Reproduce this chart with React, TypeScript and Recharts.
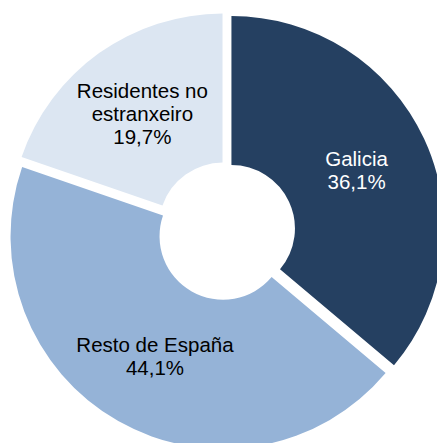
import React from "react";
import { PieChart, Pie, Cell } from "recharts";

// slices, clockwise from 12 o'clock
const categories = ["Galicia", "Resto de España", "Residentes no estranxeiro"];
const shares = [36.1, 44.1, 19.7];
const labelLines = [["Galicia"], ["Resto de España"], ["Residentes no", "estranxeiro"]];
const colors = ["#254061", "#95B3D7", "#DCE6F2"];
const textColors = ["#ffffff", "#000000", "#000000"];

const data = categories.map((name, i) => ({ name, value: shares[i] }));

const WIDTH = 437;
const HEIGHT = 443;
const CX = 226;
const CY = 231;
const INNER = 63.5;
const OUTER = 212.5;
const EXPLODE = 6;
const START = 90;
const END = -270;
const FONT = 20.5;
const LINE = 23;

const total = shares.reduce((a, b) => a + b, 0);

// push every slice a little away from the centre along its mid angle
const offsets = shares.map((v, i) => {
    const before = shares.slice(0, i).reduce((a, b) => a + b, 0);
    const mid = START + ((END - START) * (before + v / 2)) / total;
    const rad = (mid * Math.PI) / 180;
    return { dx: EXPLODE * Math.cos(rad), dy: -EXPLODE * Math.sin(rad) };
});

const fmt = (v: number) => v.toFixed(1).replace(".", ",") + "%";

const renderLabel = (slice: number) => (props: any) => {
    if (props.index !== slice) return null;
    const { cx, cy, midAngle, innerRadius, outerRadius } = props;
    const r = (innerRadius + outerRadius) / 2;
    const rad = (-midAngle * Math.PI) / 180;
    const x = cx + r * Math.cos(rad);
    const y = cy + r * Math.sin(rad);
    const lines = [...labelLines[slice], fmt(shares[slice])];
    const first = y - ((lines.length - 1) * LINE) / 2 + FONT * 0.36;
    return (
        <text
            x={x}
            y={first}
            textAnchor="middle"
            fill={textColors[slice]}
            fontSize={FONT}
            fontFamily="'Liberation Sans', Arial, sans-serif"
        >
            {lines.map((l, k) => (
                <tspan key={k} x={x} y={first + k * LINE}>
                    {l}
                </tspan>
            ))}
        </text>
    );
};

const App: React.FC = () => {
    return (
        <div
            style={{
                position: "absolute",
                left: 0,
                top: 0,
                width: WIDTH,
                height: HEIGHT,
                overflow: "hidden",
                background: "#fff",
            }}
        >
            <PieChart width={WIDTH} height={HEIGHT} margin={{ top: 0, right: 0, bottom: 0, left: 0 }}>
                {shares.map((_, slice) => (
                    <Pie
                        key={slice}
                        data={data}
                        dataKey="value"
                        nameKey="name"
                        cx={CX + offsets[slice].dx}
                        cy={CY + offsets[slice].dy}
                        innerRadius={INNER}
                        outerRadius={OUTER}
                        startAngle={START}
                        endAngle={END}
                        stroke="none"
                        label={renderLabel(slice)}
                        labelLine={false}
                        isAnimationActive={false}
                    >
                        {data.map((d, i) => (
                            <Cell
                                key={d.name}
                                fill={colors[i]}
                                fillOpacity={i === slice ? 1 : 0}
                                stroke="none"
                            />
                        ))}
                    </Pie>
                ))}
            </PieChart>
        </div>
    );
};

export default App;
